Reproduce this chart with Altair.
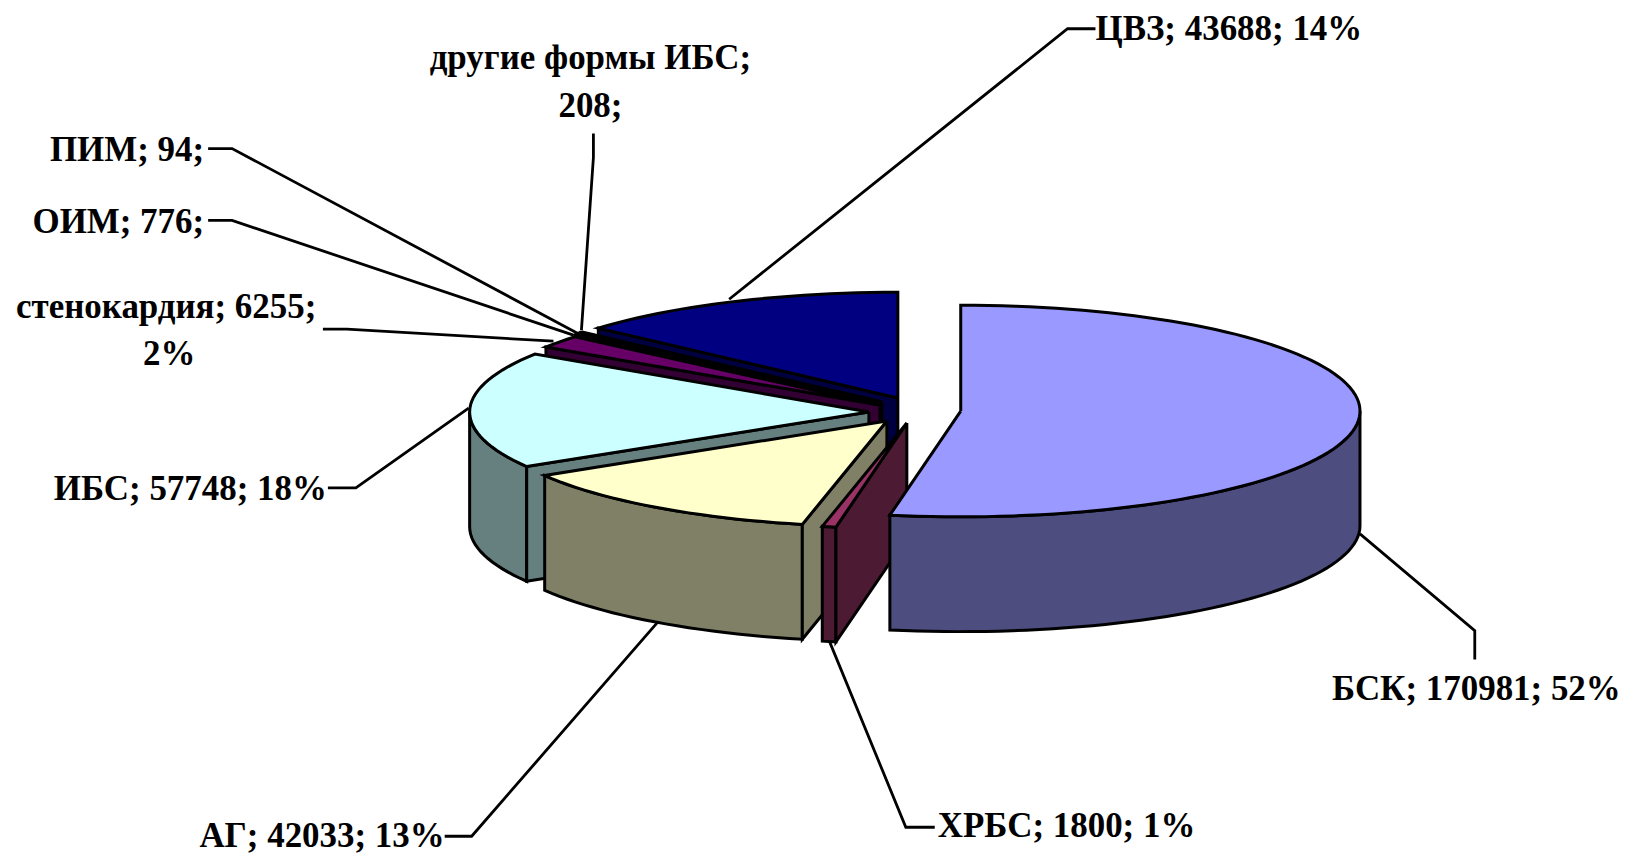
import math
import altair as alt
import pandas as pd

# ---- values
names = ["БСК", "ХРБС", "АГ", "ИБС", "стенокардия", "ОИМ", "ПИМ", "другие формы ИБС", "ЦВЗ"]
values = [170981, 1800, 42033, 57748, 6255, 776, 94, 208, 43688]
top_colors = ["#9999FF", "#993366", "#FFFFCC", "#CCFFFF", "#660066", "#FF8080", "#0066CC", "#CCCCFF", "#000080"]
side_colors = ["#4D4D80", "#4D1A33", "#808066", "#668080", "#330033", "#804040", "#003366", "#666680", "#000040"]
# apex of every exploded slice
apex_x = [961, 907, 887, 869, 880, 881, 881.5, 882, 898]
apex_y = [411, 423, 421, 412, 405, 403, 402.5, 402, 398]
# shape of the tilted pie
RX, RY, DEPTH = 400, 106, 115

label_lines = [
    ("ЦВЗ; 43688; 14%", 1096, 28, "left"),
    ("другие формы ИБС;", 590, 57, "center"),
    ("208;", 590, 105, "center"),
    ("ПИМ; 94;", 203, 149, "right"),
    ("ОИМ; 776;", 203, 222, "right"),
    ("стенокардия; 6255;", 165, 307, "center"),
    ("2%", 168, 354, "center"),
    ("ИБС; 57748; 18%", 326, 489, "right"),
    ("БСК; 170981; 52%", 1333, 690, "left"),
    ("ХРБС; 1800; 1%", 938, 827, "left"),
    ("АГ; 42033; 13%", 444, 837, "right"),
]
leaders = [
    [(729, 299), (1068, 28), (1096, 28)],
    [(593, 133), (593, 157), (581, 330)],
    [(207, 148), (231, 148), (577, 333)],
    [(207, 220), (231, 220), (573, 335)],
    [(322, 329), (346, 329), (553, 341)],
    [(327, 488), (355, 488), (468, 408)],
    [(1361, 534), (1476, 631), (1476, 660)],
    [(830, 643), (906, 828), (935, 828)],
    [(657, 623), (471, 837), (444, 837)],
]

X = alt.X("x:Q", scale=alt.Scale(domain=[6.5, 1619.5]), axis=None)
Y = alt.Y("y:Q", scale=alt.Scale(domain=[8, 846], reverse=True), axis=None)


def rim(cx, cy, t):
    r = math.radians(t)
    return cx + RX * math.sin(r), cy - RY * math.cos(r)


def arc(cx, cy, a, b):
    n = max(2, int(abs(b - a) / 2) + 1)
    return [rim(cx, cy, a + (b - a) * i / n) for i in range(n + 1)]


def poly(points, fill):
    pts = list(points) + [points[0]]
    df = pd.DataFrame({"x": [p[0] for p in pts], "y": [p[1] for p in pts], "i": range(len(pts))})
    return alt.Chart(df).mark_line(
        stroke="black", strokeWidth=3, fill=fill, strokeJoin="miter", clip=False
    ).encode(x=X, y=Y, order="i:Q")


total = sum(values)
angles = [0]
for v in values:
    angles.append(angles[-1] + 360 * v / total)

layers = []
for k in range(len(values) - 1, -1, -1):
    cx, cy = apex_x[k], apex_y[k]
    a0, a1 = angles[k], angles[k + 1]
    side, top = side_colors[k], top_colors[k]
    lo, hi = max(a0, 90), min(a1, 270)
    if hi > lo:  # outer wall
        edge = arc(cx, cy, lo, hi)
        layers.append(poly(edge + [(x, y + DEPTH) for x, y in reversed(edge)], side))
    if a0 > 0:  # cut wall seen from the front
        p = rim(cx, cy, a0)
        layers.append(poly([(cx, cy), p, (p[0], p[1] + DEPTH), (cx, cy + DEPTH)], side))
    layers.append(poly([(cx, cy)] + arc(cx, cy, a0, a1), top))

for line in leaders:
    df = pd.DataFrame({"x": [p[0] for p in line], "y": [p[1] for p in line], "i": range(len(line))})
    layers.append(alt.Chart(df).mark_line(color="black", strokeWidth=2.8).encode(x=X, y=Y, order="i:Q"))

for align in ["left", "center", "right"]:
    df = pd.DataFrame([{"t": t, "x": x, "y": y} for t, x, y, a in label_lines if a == align])
    layers.append(
        alt.Chart(df).mark_text(
            align=align, baseline="middle", font="Liberation Serif", fontWeight="bold", fontSize=35, color="black"
        ).encode(x=X, y=Y, text="t:N")
    )

chart = alt.layer(*layers).properties(
    width=1613, height=838, padding=0, background="white"
).configure_view(stroke=None)

chart.save("out.html", embed_options={"renderer": "svg", "actions": False})
